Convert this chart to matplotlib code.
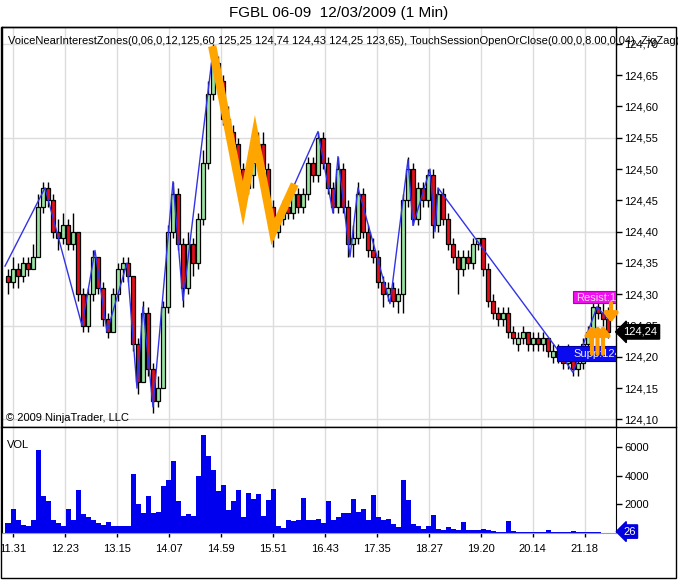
import matplotlib
matplotlib.use("Agg")
import numpy as np
import matplotlib.pyplot as plt
from matplotlib.patches import Rectangle
from matplotlib.lines import Line2D
from matplotlib.transforms import blended_transform_factory

plt.rcParams['font.family'] = ['Liberation Sans', 'DejaVu Sans']

title = "FGBL 06-09  12/03/2009 (1 Min)"
indicator_text = ("VoiceNearInterestZones(0,06,0,12,125,60 125,25 124,74 124,43 124,25 123,65), "
                  "TouchSessionOpenOrClose(0.00,0,8.00,0,04), ZigZag(Points,0,10,False)")

# 5-minute candles, one per slot
opens = [124.33, 124.32, 124.34, 124.33, 124.35, 124.34, 124.36, 124.44, 124.47, 124.45,
         124.40, 124.39, 124.41, 124.38, 124.40, 124.30, 124.25, 124.30, 124.36, 124.31,
         124.26, 124.24, 124.30, 124.34, 124.35, 124.33, 124.22, 124.16, 124.27, 124.18,
         124.13, 124.15, 124.28, 124.40, 124.46, 124.38, 124.31, 124.38, 124.35, 124.42,
         124.51, 124.62, 124.67, 124.64, 124.58, 124.56, 124.54, 124.50, 124.47, 124.49,
         124.51, 124.54, 124.50, 124.44, 124.40, 124.42, 124.44, 124.43, 124.46, 124.44,
         124.46, 124.51, 124.49, 124.55, 124.51, 124.47, 124.44, 124.50, 124.44, 124.38,
         124.39, 124.46, 124.40, 124.37, 124.36, 124.32, 124.30, 124.31, 124.29, 124.30,
         124.45, 124.50, 124.42, 124.47, 124.45, 124.49, 124.41, 124.46, 124.42, 124.38,
         124.36, 124.34, 124.36, 124.35, 124.38, 124.39, 124.34, 124.29, 124.27, 124.26,
         124.27, 124.24, 124.22, 124.23, 124.24, 124.22, 124.23, 124.22, 124.23, 124.20,
         124.21, 124.20, 124.19, 124.21, 124.18, 124.19, 124.22, 124.24, 124.28, 124.27,
         124.26]
highs = [124.34, 124.36, 124.35, 124.36, 124.36, 124.38, 124.46, 124.48, 124.48, 124.46,
         124.42, 124.43, 124.42, 124.43, 124.40, 124.31, 124.31, 124.37, 124.36, 124.32,
         124.27, 124.31, 124.35, 124.36, 124.36, 124.33, 124.23, 124.29, 124.28, 124.19,
         124.17, 124.29, 124.41, 124.48, 124.47, 124.39, 124.40, 124.39, 124.43, 124.53,
         124.64, 124.70, 124.68, 124.65, 124.60, 124.57, 124.55, 124.51, 124.50, 124.52,
         124.56, 124.56, 124.51, 124.45, 124.43, 124.45, 124.46, 124.47, 124.47, 124.47,
         124.52, 124.52, 124.56, 124.56, 124.52, 124.48, 124.52, 124.51, 124.45, 124.41,
         124.48, 124.47, 124.41, 124.39, 124.37, 124.33, 124.32, 124.32, 124.31, 124.46,
         124.52, 124.51, 124.48, 124.48, 124.50, 124.50, 124.47, 124.47, 124.43, 124.39,
         124.37, 124.37, 124.37, 124.39, 124.39, 124.39, 124.35, 124.30, 124.28, 124.28,
         124.28, 124.25, 124.24, 124.25, 124.24, 124.24, 124.24, 124.24, 124.23, 124.22,
         124.22, 124.21, 124.22, 124.21, 124.20, 124.23, 124.25, 124.29, 124.29, 124.29,
         124.28]
lows = [124.30, 124.31, 124.31, 124.32, 124.33, 124.34, 124.36, 124.43, 124.44, 124.39,
        124.37, 124.38, 124.37, 124.37, 124.29, 124.24, 124.24, 124.29, 124.30, 124.25,
        124.23, 124.24, 124.29, 124.32, 124.32, 124.21, 124.14, 124.16, 124.17, 124.11,
        124.12, 124.15, 124.27, 124.39, 124.37, 124.28, 124.30, 124.33, 124.34, 124.41,
        124.50, 124.61, 124.62, 124.57, 124.55, 124.52, 124.49, 124.45, 124.46, 124.47,
        124.50, 124.49, 124.43, 124.375, 124.39, 124.41, 124.42, 124.42, 124.43, 124.43,
        124.45, 124.48, 124.48, 124.50, 124.46, 124.43, 124.43, 124.43, 124.36, 124.36,
        124.38, 124.39, 124.36, 124.35, 124.31, 124.28, 124.29, 124.28, 124.27, 124.27,
        124.44, 124.41, 124.41, 124.44, 124.44, 124.39, 124.40, 124.41, 124.37, 124.35,
        124.30, 124.33, 124.34, 124.34, 124.37, 124.33, 124.28, 124.26, 124.25, 124.25,
        124.23, 124.22, 124.21, 124.22, 124.21, 124.21, 124.21, 124.21, 124.20, 124.19,
        124.19, 124.18, 124.18, 124.17, 124.17, 124.18, 124.21, 124.23, 124.26, 124.25,
        124.23]
closes = [124.32, 124.34, 124.33, 124.35, 124.34, 124.36, 124.44, 124.47, 124.45, 124.40,
          124.39, 124.41, 124.38, 124.40, 124.30, 124.25, 124.30, 124.36, 124.31, 124.26,
          124.24, 124.30, 124.34, 124.35, 124.33, 124.22, 124.16, 124.27, 124.18, 124.13,
          124.15, 124.28, 124.40, 124.46, 124.38, 124.31, 124.38, 124.35, 124.42, 124.51,
          124.62, 124.67, 124.64, 124.58, 124.56, 124.54, 124.50, 124.47, 124.49, 124.51,
          124.54, 124.50, 124.44, 124.40, 124.42, 124.44, 124.43, 124.46, 124.44, 124.46,
          124.51, 124.49, 124.55, 124.51, 124.47, 124.44, 124.50, 124.44, 124.38, 124.39,
          124.46, 124.40, 124.37, 124.36, 124.32, 124.30, 124.31, 124.29, 124.30, 124.45,
          124.50, 124.42, 124.47, 124.45, 124.49, 124.41, 124.46, 124.42, 124.38, 124.36,
          124.34, 124.36, 124.35, 124.38, 124.39, 124.34, 124.29, 124.27, 124.26, 124.27,
          124.24, 124.23, 124.23, 124.24, 124.22, 124.23, 124.22, 124.23, 124.21, 124.21,
          124.20, 124.19, 124.21, 124.18, 124.19, 124.22, 124.24, 124.28, 124.27, 124.26,
          124.24]
volumes = [700, 1700, 900, 560, 470, 900, 5800, 2600, 2200, 900,
           700, 510, 1700, 900, 3000, 1300, 1150, 930, 700, 580,
           800, 470, 470, 510, 470, 4100, 2000, 1400, 2600, 1400,
           1500, 3250, 3700, 5000, 2200, 1200, 1300, 1200, 4000, 6850,
           5400, 4400, 2900, 3350, 1600, 2200, 3000, 1150, 2800, 2350,
           2700, 1200, 2300, 3100, 470, 350, 930, 810, 930, 2440,
           930, 930, 1000, 700, 2260, 930, 1150, 1400, 1400, 2350,
           1500, 1700, 880, 2630, 1150, 930, 1000, 650, 420, 3680,
           2280, 600, 470, 300, 470, 1230, 300, 190, 420, 300,
           200, 770, 230, 180, 200, 300, 200, 150, 100, 100,
           810, 120, 80, 60, 50, 50, 40, 60, 190, 60,
           40, 50, 80, 120, 60, 50, 40, 60, 40, 30,
           26]

# swing lines
zigzag_x = [-0.6, 7.4, 14.8, 17.4, 19.8, 23.8, 25.8, 27.0, 29.0, 33.0, 35.0, 41.0, 47.0, 49.4,
            53.0, 57.0, 62.0, 65.0, 66.0, 68.4, 70.0, 76.4, 80.0, 81.0, 84.4, 85.4, 86.0,
            109.6, 113.0, 117.8, 120.0]
zigzag_y = [124.345, 124.47, 124.25, 124.37, 124.24, 124.35, 124.15, 124.28, 124.12, 124.48,
            124.29, 124.69, 124.445, 124.55, 124.40, 124.47, 124.56, 124.43, 124.52, 124.36,
            124.47, 124.285, 124.515, 124.41, 124.50, 124.40, 124.47, 124.215, 124.175,
            124.28, 124.26]
pattern_x = [41.0, 47.0, 49.4, 53.0, 57.0]
pattern_y = [124.69, 124.445, 124.55, 124.40, 124.47]

resist_start, resist_level, resist_text = 113.0, 124.295, "Resist:124,30"
supp_start, supp_level, supp_text = 109.8, 124.205, "Supp:124,20"
up_arrow_x = [116.8, 117.9, 119.0]
up_arrow_from, up_arrow_to = 124.205, 124.25
down_arrow_x = [120.6]
down_arrow_from, down_arrow_to = 124.286, 124.255

time_labels = ["11.31", "12.23", "13.15", "14.07", "14.59", "15.51", "16.43",
               "17.35", "18.27", "19.20", "20.14", "21.18"]

W, H = 678, 580
fig = plt.figure(figsize=(W / 100, H / 100), dpi=100)
fig.patch.set_facecolor("white")


def px_axes(x0, y0, x1, y1):
    return fig.add_axes([x0 / W, 1 - y1 / H, (x1 - x0) / W, (y1 - y0) / H])


ax = px_axes(2, 27, 616, 427)
axv = px_axes(2, 427, 616, 533)

idx = np.arange(len(closes))
o = np.array(opens)
c = np.array(closes)
tick_pos = 0.94 + 10.4 * np.arange(len(time_labels))
grid_col = "#DCDCDC"

# price panel
for t in tick_pos:
    ax.axvline(t, color=grid_col, lw=1, zorder=0)
for g in [124.10, 124.25, 124.40, 124.55, 124.70]:
    ax.axhline(g, color=grid_col, lw=1, zorder=0)

ax.vlines(idx, lows, highs, color="black", lw=1, zorder=2)
body = np.maximum(np.abs(c - o), 0.003)
cols = np.where(c >= o, "#9AE4A2", "#E3101C")
ax.bar(idx, body, bottom=np.minimum(o, c), width=0.9, color=cols,
       edgecolor="black", lw=0.9, zorder=3)

ax.plot(zigzag_x, zigzag_y, color="#3333E6", lw=1, zorder=4)
ax.plot(pattern_x, pattern_y, color="#FFA500", lw=6, zorder=5, solid_joinstyle="miter")

ax.add_patch(Rectangle((resist_start, resist_level - 0.0095), 12, 0.019,
                       fc="#F010F0", ec="#B000B0", lw=0.8, zorder=6))
ax.text(resist_start + 0.7, resist_level, resist_text, color="#FFD8F4", fontsize=8,
        va="center", ha="left", clip_on=True, zorder=7)
ax.add_patch(Rectangle((supp_start, supp_level - 0.012), 14, 0.024,
                       fc="#0A0AF0", ec="#0000A0", lw=0.8, zorder=6))
ax.text(supp_start + 3.3, supp_level, supp_text, color="#E8ECFF", fontsize=8,
        va="center", ha="left", clip_on=True, zorder=7)

arrow_style = dict(arrowstyle="-|>,head_width=0.4,head_length=0.5",
                   color="#FF9A00", lw=3, shrinkA=0, shrinkB=0)
for x in up_arrow_x:
    ax.annotate("", xy=(x, up_arrow_to), xytext=(x, up_arrow_from),
                arrowprops=arrow_style, zorder=8)
for x in down_arrow_x:
    ax.annotate("", xy=(x, down_arrow_to), xytext=(x, down_arrow_from),
                arrowprops=arrow_style, zorder=8)

ax.set_xlim(-1.2, 121.6)
ax.set_ylim(124.088, 124.727)
ax.yaxis.tick_right()
yt = np.round(np.arange(124.10, 124.701, 0.05), 2)
ax.set_yticks(yt)
ax.set_yticklabels([f"{v:.2f}".replace(".", ",") for v in yt])
ax.tick_params(axis="y", direction="out", length=4, width=1, labelsize=8, pad=2)
ax.set_xticks([])
for s in ax.spines.values():
    s.set_color("black")
    s.set_linewidth(1)

tr = blended_transform_factory(ax.transAxes, ax.transData)
ax.text(1.012, closes[-1], f"{closes[-1]:.2f}".replace(".", ","), transform=tr,
        color="white", fontsize=8, va="center", ha="left", clip_on=False, zorder=10,
        bbox=dict(boxstyle="larrow,pad=0.2", fc="black", ec="black"))

# volume panel
for t in tick_pos:
    axv.axvline(t, color=grid_col, lw=1, zorder=0)
axv.bar(idx, volumes, width=1.0, color="#0000EE", lw=0, zorder=2)
axv.set_xlim(-1.2, 121.6)
axv.set_ylim(0, 7400)
axv.yaxis.tick_right()
axv.set_yticks([2000, 4000, 6000])
axv.tick_params(axis="y", direction="out", length=4, width=1, labelsize=8, pad=2)
axv.set_xticks(tick_pos)
axv.set_xticklabels(time_labels)
axv.tick_params(axis="x", direction="out", length=3, width=1, labelsize=8, pad=5)
axv.spines["top"].set_visible(False)
axv.spines["bottom"].set_color("#9A9AC0")
for s in ["left", "right"]:
    axv.spines[s].set_color("black")

trv = blended_transform_factory(axv.transAxes, axv.transData)
axv.text(1.012, 100, str(volumes[-1]), transform=trv, color="white", fontsize=8,
         va="center", ha="left", clip_on=False, zorder=10,
         bbox=dict(boxstyle="larrow,pad=0.15", fc="#0000E0", ec="#0000E0"))

# frame and texts
fig.add_artist(Rectangle((1 / W, 2 / H), 675 / W, 551 / H, transform=fig.transFigure,
                         fill=False, ec="black", lw=1))
fig.add_artist(Line2D([1 / W, 676 / W], [1 - 427 / H] * 2, color="black", lw=1))
fig.text(339 / W, 1 - 13 / H, title, ha="center", va="center", fontsize=11)
fig.text(8 / W, 1 - 41 / H, indicator_text, ha="left", va="center", fontsize=8)
fig.text(6 / W, 1 - 418 / H, "\u00a9 2009 NinjaTrader, LLC", ha="left", va="center", fontsize=8)
fig.text(7 / W, 1 - 445 / H, "VOL", ha="left", va="center", fontsize=8)

fig.savefig("out.png", dpi=100)
